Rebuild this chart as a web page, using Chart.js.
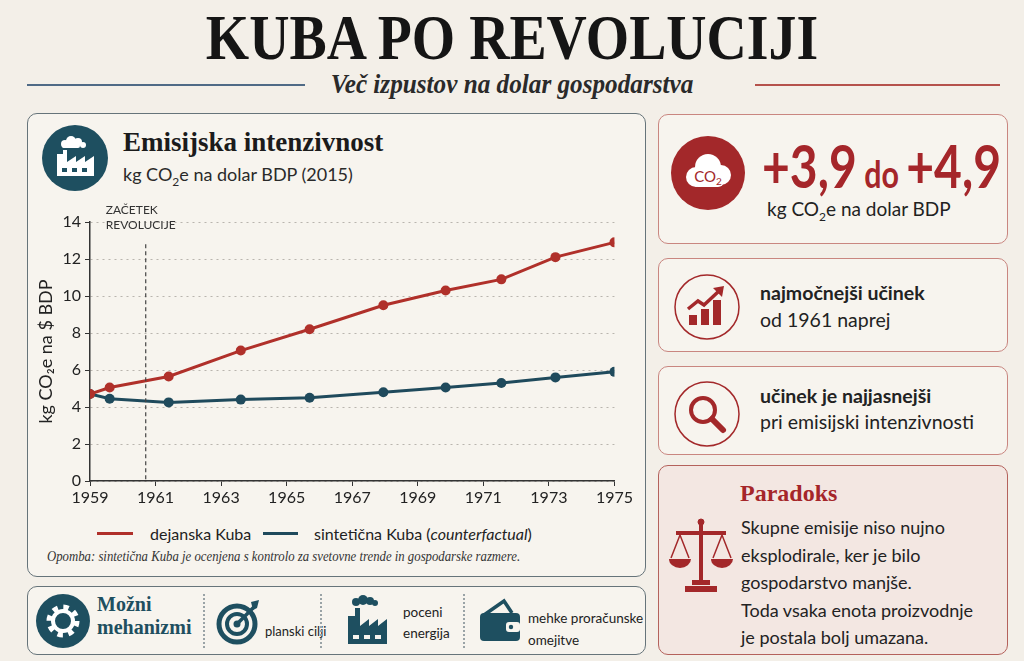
<!DOCTYPE html>
<html>
<head>
<meta charset="utf-8">
<script src="https://cdn.jsdelivr.net/npm/chart.js@4.4.1/dist/chart.umd.min.js"></script>
<style>
  html, body { margin: 0; padding: 0; }
  body { width: 1024px; height: 661px; background: #f3efe8; position: relative; overflow: hidden;
         font-family: "Lato", "Noto Sans", sans-serif; color: #222; }
  .abs { position: absolute; }
  .title { left: 0; width: 1024px; top: 2px; text-align: center; font-family: "Liberation Serif", serif;
           font-weight: bold; font-size: 63px; color: #151515; transform: scaleX(0.885); }
  .sub { left: 0; width: 1024px; top: 68px; text-align: center; font-family: "Liberation Serif", serif;
         font-style: italic; font-weight: bold; font-size: 28px; color: #2a2a2a; transform: scaleX(0.9); }
  .rule { height: 2px; top: 84px; }
  .panel { border: 1.5px solid #66747a; border-radius: 10px; background: #f7f4ee; box-sizing: border-box; }
  .rpanel { border: 1.5px solid #c98680; border-radius: 10px; background: #f7f4ee; box-sizing: border-box; }
  .serifb { font-family: "Liberation Serif", serif; font-weight: bold; }
</style>
</head>
<body>
<div class="abs title">KUBA PO REVOLUCIJI</div>
<div class="abs rule" style="left:27px;width:278px;background:#4f6a86;"></div>
<div class="abs sub">Več izpustov na dolar gospodarstva</div>
<div class="abs rule" style="left:755px;width:245px;background:#b5524c;"></div>

<!-- left main panel -->
<div class="abs panel" style="left:27px;top:113px;width:619px;height:464px;"></div>
<svg class="abs" style="left:41px;top:124px" width="68" height="68" viewBox="0 0 68 68">
  <circle cx="34" cy="34" r="33" fill="#1e4f60"/>
  <g fill="#fff">
    <circle cx="24" cy="20" r="4"/><circle cx="30" cy="17" r="5"/><circle cx="37" cy="18" r="4"/><circle cx="42" cy="21" r="3"/>
    <rect x="21" y="20" width="18" height="4" rx="2"/>
    <path d="M16 52 V30 h6 V26 h4 V38 l9-6 v6 l9-6 v6 l9-6 V52 Z"/>
  </g>
  <g fill="#1e4f60"><rect x="21" y="44" width="5" height="4"/><rect x="31" y="44" width="5" height="4"/><rect x="41" y="44" width="5" height="4"/></g>
</svg>
<div class="abs serifb" style="left:123px;top:127px;font-size:27px;color:#1b1b1b;">Emisijska intenzivnost</div>
<div class="abs" style="left:123px;top:163px;font-size:18px;color:#2a2a2a;">kg CO<sub style="font-size:12px">2</sub>e na dolar BDP (2015)</div>

<div class="abs" style="left:35px;top:195px;width:600px;height:314px;"><canvas id="emChart"></canvas></div>

<!-- legend -->
<div class="abs" style="left:97px;top:532px;width:36px;height:3px;background:#b0302a;"></div>
<div class="abs" style="left:150px;top:524px;font-size:16px;">dejanska Kuba</div>
<div class="abs" style="left:263px;top:532px;width:35px;height:3px;background:#1f4a5c;"></div>
<div class="abs" style="left:314px;top:524px;font-size:16px;">sintetična Kuba (<i>counterfactual</i>)</div>
<div class="abs" style="left:47px;top:548px;font-family:'Liberation Serif',serif;font-style:italic;font-size:14.5px;color:#333;white-space:nowrap;transform:scaleX(0.88);transform-origin:left;">Opomba: sintetična Kuba je ocenjena s kontrolo za svetovne trende in gospodarske razmere.</div>

<!-- bottom panel -->
<div class="abs panel" style="left:27px;top:586px;width:619px;height:69px;"></div>
<svg class="abs" style="left:35px;top:593px" width="56" height="56" viewBox="0 0 56 56">
  <circle cx="28" cy="28" r="27" fill="#1e4f60"/>
  <circle cx="28" cy="28" r="13" fill="none" stroke="#fff" stroke-width="7" stroke-dasharray="5 5.2"/>
  <circle cx="28" cy="28" r="10" fill="none" stroke="#fff" stroke-width="4"/>
</svg>
<div class="abs serifb" style="left:97px;top:593px;font-size:20px;line-height:23px;color:#1e4f60;">Možni<br>mehanizmi</div>
<div class="abs" style="left:203px;top:594px;height:54px;border-left:2px dotted #9aa3a6;"></div>
<svg class="abs" style="left:215px;top:596px" width="50" height="50" viewBox="0 0 50 50">
  <circle cx="22" cy="28" r="18" fill="none" stroke="#1e4f60" stroke-width="5"/>
  <circle cx="22" cy="28" r="10" fill="none" stroke="#1e4f60" stroke-width="4"/>
  <circle cx="22" cy="28" r="3.5" fill="#1e4f60"/>
  <path d="M22 28 L40 10" stroke="#1e4f60" stroke-width="3.5"/>
  <path d="M36 6 L44 4 L42 12 L38 14 Z" fill="#1e4f60"/>
</svg>
<div class="abs" style="left:265px;top:623px;font-size:13px;">planski cilji</div>
<div class="abs" style="left:320px;top:594px;height:54px;border-left:2px dotted #9aa3a6;"></div>
<svg class="abs" style="left:342px;top:594px" width="50" height="54" viewBox="0 0 50 54">
  <g fill="#1e4f60">
    <circle cx="14" cy="8" r="4"/><circle cx="21" cy="6" r="5"/><circle cx="28" cy="7" r="4"/><circle cx="33" cy="9" r="3"/>
    <path d="M6 50 V22 h7 V14 h5 V32 l9-7 v7 l9-7 v7 l9-7 V50 Z"/>
  </g>
  <g fill="#f7f4ee"><rect x="11" y="41" width="6" height="4"/><rect x="22" y="41" width="6" height="4"/><rect x="33" y="41" width="6" height="4"/></g>
</svg>
<div class="abs" style="left:403px;top:602px;font-size:13.5px;line-height:21px;">poceni<br>energija</div>
<div class="abs" style="left:463px;top:594px;height:54px;border-left:2px dotted #9aa3a6;"></div>
<svg class="abs" style="left:476px;top:597px" width="48" height="48" viewBox="0 0 48 48">
  <path d="M8 18 L28 4 L36 16" fill="none" stroke="#1e4f60" stroke-width="3.5"/>
  <rect x="4" y="16" width="40" height="28" rx="4" fill="#1e4f60"/>
  <rect x="30" y="25" width="14" height="10" rx="3" fill="#f7f4ee"/>
  <circle cx="35" cy="30" r="2.2" fill="#1e4f60"/>
</svg>
<div class="abs" style="left:528px;top:607px;font-size:13.5px;line-height:22px;">mehke proračunske<br>omejitve</div>

<!-- right panels -->
<div class="abs rpanel" style="left:658px;top:114px;width:350px;height:130px;"></div>
<svg class="abs" style="left:670px;top:135px" width="76" height="76" viewBox="0 0 76 76">
  <circle cx="38" cy="38" r="37" fill="#a3282a"/>
  <g fill="#fff">
    <circle cx="26" cy="42" r="10"/><circle cx="38" cy="32" r="13"/><circle cx="51" cy="40" r="10"/>
    <rect x="22" y="40" width="32" height="12" rx="6"/>
  </g>
  <text x="38" y="47" text-anchor="middle" font-family="Lato, sans-serif" font-size="15" fill="#a3282a">CO<tspan font-size="10" dy="3">2</tspan></text>
</svg>
<div class="abs" style="left:762px;top:132px;font-weight:bold;color:#a5262a;font-size:60px;line-height:66px;white-space:nowrap;transform:scaleX(0.8);transform-origin:left;">+3,9<span style="font-size:38px;"> do </span>+4,9</div>
<div class="abs" style="left:767px;top:197px;font-size:19px;">kg CO<sub style="font-size:12px">2</sub>e na dolar BDP</div>

<div class="abs rpanel" style="left:658px;top:258px;width:350px;height:94px;"></div>
<svg class="abs" style="left:673px;top:273px" width="68" height="68" viewBox="0 0 68 68">
  <circle cx="34" cy="34" r="32" fill="none" stroke="#a3282a" stroke-width="1.5"/>
  <g fill="#a3282a"><rect x="16" y="42" width="8" height="10"/><rect x="28" y="36" width="8" height="16"/><rect x="40" y="27" width="8" height="25"/></g>
  <path d="M15 36 L25 28 L31 32 L46 18" fill="none" stroke="#a3282a" stroke-width="3.5"/>
  <path d="M40 15 L51 13 L49 24 Z" fill="#a3282a"/>
</svg>
<div class="abs" style="left:760px;top:281px;font-size:19.5px;font-weight:bold;">najmočnejši učinek</div>
<div class="abs" style="left:760px;top:308px;font-size:19.5px;">od 1961 naprej</div>

<div class="abs rpanel" style="left:658px;top:366px;width:350px;height:89px;"></div>
<svg class="abs" style="left:673px;top:380px" width="68" height="68" viewBox="0 0 68 68">
  <circle cx="34" cy="34" r="32" fill="none" stroke="#a3282a" stroke-width="1.5"/>
  <circle cx="30" cy="30" r="12" fill="none" stroke="#a3282a" stroke-width="4"/>
  <path d="M39 39 L50 50" stroke="#a3282a" stroke-width="6" stroke-linecap="round"/>
</svg>
<div class="abs" style="left:760px;top:384px;font-size:19.5px;font-weight:bold;">učinek je najjasnejši</div>
<div class="abs" style="left:760px;top:410px;font-size:19.5px;">pri emisijski intenzivnosti</div>

<div class="abs rpanel" style="left:658px;top:465px;width:350px;height:190px;background:#f3e7e2;border-color:#b4625c;"></div>
<div class="abs serifb" style="left:740px;top:480px;font-size:24px;color:#a5262a;">Paradoks</div>
<svg class="abs" style="left:668px;top:516px" width="66" height="80" viewBox="0 0 66 80">
  <g fill="#a3282a" stroke="#a3282a">
    <circle cx="33" cy="6" r="3"/>
    <rect x="31" y="8" width="4" height="56" stroke="none"/>
    <rect x="8" y="15" width="50" height="4" stroke="none"/>
    <path d="M12 19 L3 42 M12 19 L21 42 M54 19 L45 42 M54 19 L63 42" fill="none" stroke-width="1.5"/>
    <path d="M1 43 H23 A11 9 0 0 1 1 43 Z" stroke="none"/>
    <path d="M43 43 H65 A11 9 0 0 1 43 43 Z" stroke="none"/>
    <rect x="24" y="64" width="18" height="5" stroke="none"/>
    <rect x="17" y="70" width="32" height="6" stroke="none"/>
  </g>
</svg>
<div class="abs" style="left:741px;top:514px;font-size:18px;line-height:27.5px;color:#222;">Skupne emisije niso nujno<br>eksplodirale, ker je bilo<br>gospodarstvo manjše.<br>Toda vsaka enota proizvodnje<br>je postala bolj umazana.</div>

<script>
// Emisijska intenzivnost, kg CO2e per dollar GDP
const years = [1959, 1959.6, 1961.4, 1963.6, 1965.7, 1967.95, 1969.85, 1971.55, 1973.2, 1975];
const actualCuba = [4.7, 5.05, 5.65, 7.05, 8.2, 9.5, 10.3, 10.9, 12.1, 12.9];
const syntheticCuba = [4.7, 4.45, 4.25, 4.4, 4.5, 4.8, 5.05, 5.3, 5.6, 5.9];
const revolutionYear = 1960.7;
const revolutionLabel = ['ZAČETEK', 'REVOLUCIJE'];

const RED = '#b0302a';
const BLUE = '#1f4a5c';
const tickFont = { family: 'Lato, "Noto Sans", sans-serif', size: 16 };

function toPoints(values) {
    return values.map((v, i) => ({ x: years[i], y: v }));
}

// dashed marker for the start of the revolution
const revolutionMarker = {
    id: 'revolutionMarker',
    afterDatasetsDraw(chart) {
        const { ctx, chartArea, scales } = chart;
        const x = scales.x.getPixelForValue(revolutionYear);
        ctx.save();
        ctx.strokeStyle = '#444';
        ctx.lineWidth = 1.2;
        ctx.setLineDash([4, 3]);
        ctx.beginPath();
        ctx.moveTo(x, scales.y.getPixelForValue(12.8));
        ctx.lineTo(x, chartArea.bottom);
        ctx.stroke();
        ctx.setLineDash([]);
        ctx.fillStyle = '#333';
        ctx.font = '12px Lato, sans-serif';
        ctx.textAlign = 'left';
        ctx.fillText(revolutionLabel[0], x - 40, chartArea.top - 8);
        ctx.fillText(revolutionLabel[1], x - 40, chartArea.top + 7);
        ctx.restore();
    }
};

const ctx = document.getElementById('emChart').getContext('2d');
new Chart(ctx, {
    type: 'line',
    data: {
        datasets: [
            {
                label: 'dejanska Kuba',
                data: toPoints(actualCuba),
                borderColor: RED,
                backgroundColor: RED,
                borderWidth: 3,
                pointRadius: 5,
                pointBorderWidth: 0,
                tension: 0
            },
            {
                label: 'sintetična Kuba',
                data: toPoints(syntheticCuba),
                borderColor: BLUE,
                backgroundColor: BLUE,
                borderWidth: 3,
                pointRadius: 5,
                pointBorderWidth: 0,
                tension: 0
            }
        ]
    },
    options: {
        responsive: true,
        maintainAspectRatio: false,
        animation: false,
        layout: { padding: { top: 27, right: 16, left: 0, bottom: 0 } },
        plugins: { legend: { display: false }, tooltip: { enabled: false } },
        scales: {
            x: {
                type: 'linear',
                min: 1959,
                max: 1975,
                ticks: { stepSize: 2, color: '#222', font: tickFont, padding: 2, callback: v => String(v) },
                grid: { drawOnChartArea: false, color: '#333', tickLength: 5 },
                border: { color: '#333', width: 1.5 },
                afterFit: s => { s.height = 28; }
            },
            y: {
                min: 0,
                max: 14,
                ticks: { stepSize: 2, color: '#222', font: tickFont, padding: 4 },
                grid: { color: '#b9b5ae', tickLength: 5, tickColor: '#333', tickBorderDash: [] },
                border: { color: '#333', width: 1.5, dash: [2, 4] },
                title: { display: true, text: 'kg CO₂e na $ BDP', color: '#222', font: { family: tickFont.family, size: 18 }, padding: 0 },
                afterFit: s => { s.width = 55; }
            }
        }
    },
    plugins: [revolutionMarker]
});
</script>
</body>
</html>
